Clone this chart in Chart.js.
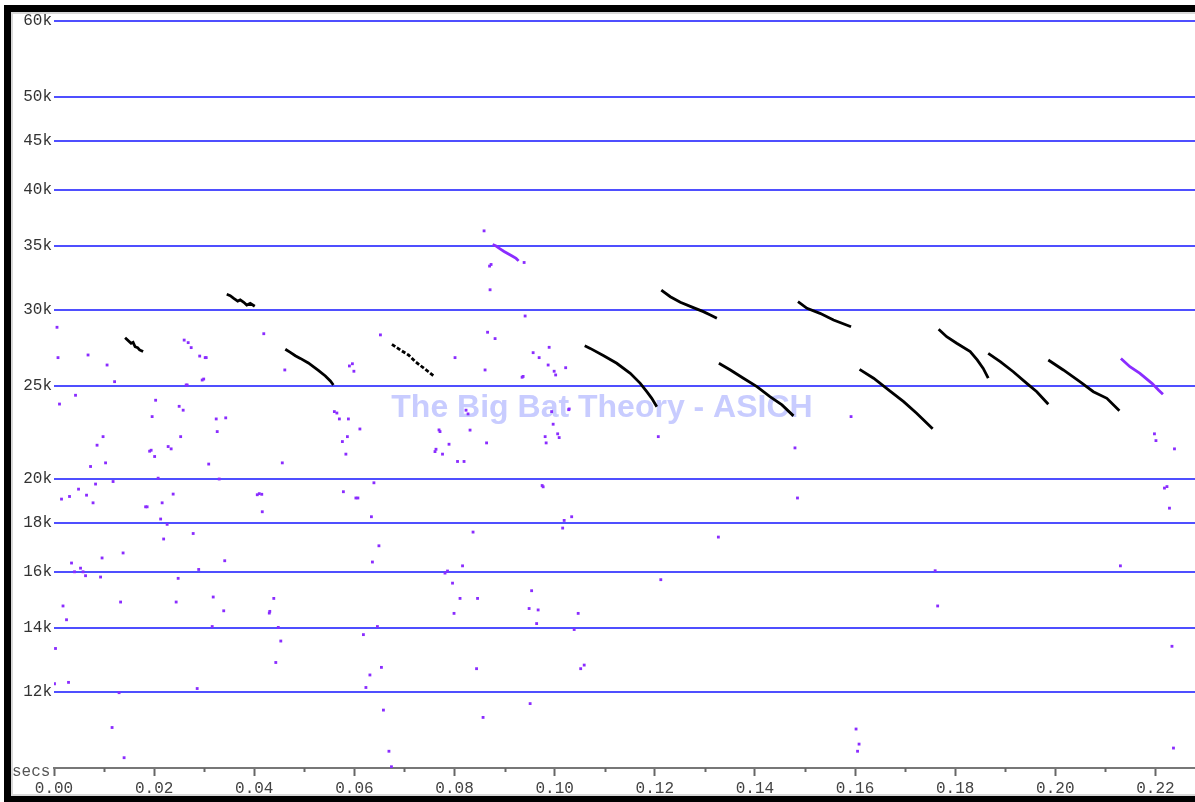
<!DOCTYPE html>
<html>
<head>
<meta charset="utf-8">
<script src="https://cdn.jsdelivr.net/npm/chart.js@4.4.1/dist/chart.umd.min.js"></script>
<style>
  html, body { margin: 0; padding: 0; background: #fff; overflow: hidden; }
  #wrap { width: 1195px; height: 802px; position: relative; }
</style>
</head>
<body>
<div id="wrap"><canvas id="sono" width="1195" height="802"></canvas></div>
<script>
// Zero-crossing sonogram: time in seconds, frequency in kHz (log axis)
const timeTicks = [0, 0.01, 0.02, 0.03, 0.04, 0.05, 0.06, 0.07, 0.08, 0.09, 0.10, 0.11,
                   0.12, 0.13, 0.14, 0.15, 0.16, 0.17, 0.18, 0.19, 0.20, 0.21, 0.22];
const freqTicks = [12, 14, 16, 18, 20, 25, 30, 35, 40, 45, 50, 60];

// scattered single readings (noise)
const noiseDots = [
  [0.0006,28.78],[0.0008,26.76],[0.0011,23.94],[0.0068,26.93],[0.0106,26.29],[0.0121,25.26],[0.0043,24.45],
  [0.0260,27.91],[0.0268,27.74],[0.0274,27.41],[0.0291,26.86],[0.0302,26.76],[0.0304,26.76],[0.0296,25.36],
  [0.0299,25.42],[0.0264,25.06],[0.0266,25.06],[0.0419,28.34],[0.0461,25.98],[0.0203,24.16],[0.0196,23.23],
  [0.0250,23.81],[0.0258,23.59],[0.0253,22.14],[0.0324,23.10],[0.0343,23.16],[0.0326,22.41],[0.0098,22.14],
  [0.0086,21.69],[0.0073,20.61],[0.0103,20.79],[0.0191,21.38],[0.0194,21.43],[0.0201,21.11],[0.0228,21.62],
  [0.0234,21.50],[0.0309,20.73],[0.0456,20.79],[0.0208,20.04],[0.0330,20.00],[0.0118,19.88],[0.0083,19.76],
  [0.0049,19.52],[0.0015,19.06],[0.0031,19.18],[0.0065,19.24],[0.0078,18.89],[0.0183,18.71],[0.0186,18.71],
  [0.0216,18.89],[0.0238,19.29],[0.0406,19.26],[0.0410,19.31],[0.0415,19.28],[0.0416,18.49],[0.0213,18.17],
  [0.0226,17.94],[0.0278,17.55],[0.0219,17.32],[0.0138,16.75],[0.0096,16.55],[0.0035,16.35],[0.0041,16.01],
  [0.0053,16.15],[0.0058,16.01],[0.0063,15.86],[0.0093,15.81],[0.0341,16.44],[0.0289,16.10],[0.0248,15.76],
  [0.0018,14.75],[0.0025,14.27],[0.0133,14.89],[0.0244,14.89],[0.0318,15.07],[0.0339,14.58],[0.0316,14.04],
  [0.0430,14.50],[0.0431,14.56],[0.0439,15.02],[0.0448,14.01],[0.0453,13.56],[0.0443,12.88],[0.0003,13.32],
  [0.0001,12.24],[0.0029,12.28],[0.0130,11.98],[0.0286,12.10],[0.0116,11.02],[0.0140,10.25],
  [0.0837,17.61],[0.0649,17.04],[0.0636,16.39],[0.0781,15.96],[0.0786,16.04],[0.0816,16.24],[0.0796,15.58],
  [0.0811,15.02],[0.0846,15.02],[0.0799,14.49],[0.0954,15.30],[0.0949,14.66],[0.0967,14.61],[0.0964,14.14],
  [0.1047,14.49],[0.1039,13.94],[0.0646,14.04],[0.0618,13.77],[0.0654,12.73],[0.0631,12.50],[0.0623,12.13],
  [0.0844,12.69],[0.1052,12.69],[0.1059,12.80],[0.0658,11.49],[0.0857,11.29],[0.0951,11.67],[0.0669,10.41],
  [0.0674,10.03],[0.1016,17.78],
  [0.0870,33.33],[0.0871,31.49],[0.0941,29.57],[0.0652,28.26],[0.0866,28.44],[0.0881,28.01],[0.0801,26.76],
  [0.0861,25.98],[0.0590,26.23],[0.0596,26.37],[0.0599,25.90],[0.0957,27.08],[0.0969,26.76],[0.0989,27.43],
  [0.0987,26.29],[0.0999,25.90],[0.1002,25.67],[0.1022,26.12],[0.0935,25.53],[0.0937,25.58],
  [0.0560,23.51],[0.0565,23.43],[0.0570,23.10],[0.0588,23.10],[0.0611,22.55],[0.0586,22.14],[0.0576,21.88],
  [0.0583,21.23],[0.0769,22.50],[0.0771,22.41],[0.0789,21.74],[0.0761,21.36],[0.0763,21.48],[0.0776,21.23],
  [0.0806,20.86],[0.0819,20.86],[0.0823,23.59],[0.0827,23.38],[0.0831,22.49],[0.0864,21.81],[0.0994,23.51],
  [0.1028,23.62],[0.1029,23.66],[0.0997,22.81],[0.0981,22.14],[0.0983,21.81],[0.1006,22.29],[0.1009,22.09],
  [0.0639,19.82],[0.0578,19.40],[0.0603,19.11],[0.0607,19.11],[0.0634,18.27],[0.0975,19.69],[0.0977,19.63],
  [0.1019,18.11],[0.1034,18.27],[0.0859,36.27],[0.0873,33.46],[0.0939,33.62],
  [0.1207,22.14],[0.1480,21.55],[0.1485,19.11],[0.1592,23.23],[0.1327,17.40],[0.1212,15.71],[0.1602,10.98],
  [0.1608,10.59],[0.1605,10.41],[0.2198,22.29],[0.2201,21.93],[0.2238,21.50],[0.2218,19.57],[0.2223,19.64],
  [0.2228,18.65],[0.1760,16.05],[0.1765,14.75],[0.2130,16.24],[0.2233,13.39],[0.2236,10.49]
];

// search-phase calls (black traces)
const call1  = [[0.0142,28.07],[0.0154,27.70],[0.0158,27.76],[0.0162,27.47],[0.0167,27.41],[0.0171,27.26],[0.0178,27.15]];
const call2  = [[0.0345,31.15],[0.0352,31.05],[0.0359,30.85],[0.0367,30.65],[0.0372,30.73],[0.0379,30.56],[0.0385,30.36],[0.0392,30.48],[0.0401,30.27]];
const call3  = [[0.0462,27.30],[0.0472,27.10],[0.0482,26.88],[0.0492,26.71],[0.0508,26.42],[0.0528,25.95],[0.0542,25.61],[0.0552,25.30],[0.0558,25.06]];
const call4  = [[0.0675,27.63],[0.0692,27.25],[0.0708,26.93],[0.0722,26.50],[0.0735,26.18],[0.0748,25.87],[0.0758,25.62]];
const call5  = [[0.1060,27.53],[0.1071,27.36],[0.1098,26.88],[0.1124,26.40],[0.1151,25.77],[0.1171,25.16],[0.1184,24.66],[0.1194,24.27],[0.1204,23.79]];
const call6  = [[0.1213,31.47],[0.1231,30.97],[0.1251,30.56],[0.1277,30.17],[0.1297,29.88],[0.1311,29.64],[0.1324,29.41]];
const call7  = [[0.1328,26.40],[0.1351,25.98],[0.1377,25.47],[0.1404,24.96],[0.1430,24.37],[0.1454,23.89],[0.1477,23.27]];
const call8  = [[0.1486,30.60],[0.1504,30.12],[0.1530,29.76],[0.1557,29.29],[0.1592,28.82]];
const call9  = [[0.1609,26.02],[0.1637,25.47],[0.1670,24.70],[0.1697,24.08],[0.1723,23.42],[0.1755,22.56]];
const call10 = [[0.1767,28.64],[0.1783,28.14],[0.1803,27.70],[0.1830,27.15],[0.1844,26.61],[0.1856,26.08],[0.1866,25.47]];
const call11 = [[0.1866,27.04],[0.1890,26.50],[0.1916,25.87],[0.1943,25.16],[0.1963,24.66],[0.1986,23.93]];
const call12 = [[0.1986,26.61],[0.2016,25.98],[0.2049,25.26],[0.2076,24.66],[0.2103,24.27],[0.2128,23.56]];

// fainter sweeps (violet traces)
const sweepA = [[0.0876,35.11],[0.0883,34.97],[0.0891,34.74],[0.0899,34.52],[0.0907,34.33],[0.0915,34.14],[0.0923,33.95],[0.0928,33.75]];
const sweepB = [[0.2131,26.71],[0.2149,26.18],[0.2169,25.77],[0.2193,25.16],[0.2206,24.76],[0.2215,24.51]];

const VIOLET = '#8a2cff';
const toXY = arr => arr.map(p => ({ x: p[0], y: p[1] }));
const isMajor = v => Math.round(v * 100) % 2 === 0;

function trace(data, color, dash) {
  return { data: toXY(data), showLine: true, borderColor: color, borderWidth: 2.8,
           borderDash: dash || [], pointRadius: 0, pointHoverRadius: 0, tension: 0,
           backgroundColor: color };
}

const datasets = [
  { data: toXY(noiseDots), showLine: false, pointStyle: 'rect', pointRadius: 2, pointHoverRadius: 2,
    backgroundColor: VIOLET, borderWidth: 0 },
  trace(sweepA, VIOLET), trace(sweepB, VIOLET),
  trace(call1, '#000'), trace(call2, '#000'), trace(call3, '#000'),
  trace(call4, '#000', [4, 2]),
  ...[call5, call6, call7, call8, call9, call10, call11, call12].map(c => trace(c, '#000'))
];

const MONO = { family: '"Liberation Mono", "DejaVu Sans Mono", monospace', size: 16 };

const decor = {
  id: 'decor',
  beforeDraw(chart) {
    const ctx = chart.ctx;
    ctx.save();
    ctx.fillStyle = '#fff';
    ctx.fillRect(0, 0, chart.width, chart.height);
    ctx.restore();
  },
  beforeDatasetsDraw(chart) {
    const ctx = chart.ctx;
    ctx.save();
    ctx.font = 'bold 32px "Liberation Sans", Arial, sans-serif';
    ctx.fillStyle = '#c8ccff';
    ctx.textAlign = 'center';
    ctx.textBaseline = 'alphabetic';
    ctx.fillText('The Big Bat Theory - ASICH', 602, 417);
    ctx.restore();
  },
  afterDraw(chart) {
    const ctx = chart.ctx;
    const xs = chart.scales.x;
    const bottom = chart.chartArea.bottom;
    ctx.save();
    // short minor tick marks
    ctx.strokeStyle = '#666';
    ctx.lineWidth = 2;
    xs.ticks.forEach((t, i) => {
      if (!isMajor(t.value)) {
        const px = Math.round(xs.getPixelForTick(i)) + 0.5;
        ctx.beginPath();
        ctx.moveTo(px, bottom);
        ctx.lineTo(px, bottom + 4);
        ctx.stroke();
      }
    });
    // unit label
    ctx.font = '16px "Liberation Mono", "DejaVu Sans Mono", monospace';
    ctx.fillStyle = '#555';
    ctx.textAlign = 'left';
    ctx.textBaseline = 'alphabetic';
    ctx.fillText('secs', 12, 776);
    // window frame
    ctx.fillStyle = '#d8d8d8';
    ctx.fillRect(11, 12, 2, chart.height);
    ctx.fillRect(11, 12, chart.width, 2);
    ctx.fillRect(11, 794, chart.width, 2);
    ctx.fillStyle = '#000';
    ctx.fillRect(4, 5, 7, chart.height);
    ctx.fillRect(4, 5, chart.width, 7);
    ctx.fillRect(4, 796, chart.width, 6);
    ctx.restore();
  }
};

new Chart(document.getElementById('sono'), {
  type: 'scatter',
  data: { datasets },
  plugins: [decor],
  options: {
    responsive: false,
    animation: false,
    devicePixelRatio: 1,
    layout: { autoPadding: false, padding: { top: 21, right: 0, bottom: 0, left: 0 } },
    plugins: { legend: { display: false }, tooltip: { enabled: false } },
    scales: {
      x: {
        type: 'linear', min: 0, max: 0.2279,
        afterBuildTicks: s => { s.ticks = timeTicks.map(v => ({ value: v })); },
        afterFit: s => { s.height = 34; },
        grid: {
          drawOnChartArea: false, drawTicks: true, tickLength: 8, tickWidth: 2,
          tickColor: c => (c.tick && isMajor(c.tick.value)) ? '#666' : 'rgba(0,0,0,0)'
        },
        border: { display: true, color: '#777', width: 2 },
        ticks: {
          autoSkip: false, maxRotation: 0, padding: 3, color: '#444', font: MONO,
          callback: v => isMajor(v) ? v.toFixed(2) : ''
        }
      },
      y: {
        type: 'logarithmic', min: 10, max: 60,
        afterBuildTicks: s => { s.ticks = freqTicks.map(v => ({ value: v })); },
        afterFit: s => { s.width = 54; },
        grid: { color: '#4f4fff', lineWidth: 2, drawTicks: false },
        border: { display: false },
        ticks: { padding: 2, color: '#333', font: MONO, callback: v => v + 'k' }
      }
    }
  }
});
</script>
</body>
</html>
